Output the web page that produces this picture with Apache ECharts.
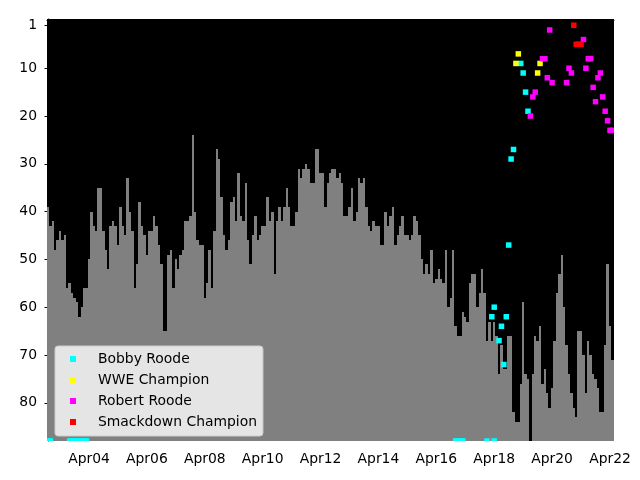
<!DOCTYPE html>
<html><head><meta charset="utf-8">
<script src="https://cdn.jsdelivr.net/npm/echarts@6/dist/echarts.min.js"></script>
<style>html,body{margin:0;padding:0;background:#fff}#c{width:640px;height:480px}</style>
</head><body><div id="c"></div>
<script>
// first bar month; one bar per month
const startMonth = '2002-11';
const barValues = [
39,43,42,48,46,44,46,45,56,55,57,58,59,62,60,56,56,50,40,43,44,35,35,44,48,52,43,42,43,47,39,43,45,33,40,44,56,51,38,43,45,49,44,44,41,43,47,51,65,65,49,48,56,50,52,49,48,42,42,
41,24,40,46,47,47,58,55,48,56,44,27,29,37,45,48,46,38,37,42,32,41,42,34,46,51,45,41,46,45,43,43,37,42,40,53,42,39,42,39,35,39,43,43,40,31,33,31,30,31,34,34,27,27,32,32,39,34,32,31,
31,33,32,34,41,41,39,35,42,40,33,34,33,39,43,44,42,43,43,47,47,40,43,41,39,47,45,43,41,45,45,46,45,41,42,45,50,53,51,53,48,55,54,52,54,55,48,60,58,48,64,66,66,61,62,63,55,53,53,
60,57,52,57,67,63,67,63,66,74,68,73,73,66,66,82,84,84,76,59,74,75,88,74,66,67,64,76,73,78,81,77,67,57,53,49,60,68,74,78,81,83,65,65,70,78,67,70,74,75,77,82,82,68,51,64,71
];
const yTicks = [1,10,20,30,40,50,60,70,80];
const xTickMonths = ['2004-04','2006-04','2008-04','2010-04','2012-04','2014-04','2016-04','2018-04','2020-04','2022-04'];
const xTickLabels = ['Apr04','Apr06','Apr08','Apr10','Apr12','Apr14','Apr16','Apr18','Apr20','Apr22'];

const bobbyMonths = ['2002-11','2002-12','2003-08','2003-09','2003-10','2003-11','2003-12','2004-01','2004-02','2004-03',
  '2016-12','2017-01','2017-02','2017-03','2018-01','2018-04',
  '2018-03','2018-04','2018-06','2018-07','2018-08','2018-09','2018-10','2018-11','2018-12','2019-03','2019-04','2019-05','2019-06'];
const bobbyRanks = [88,88,88,88,88,88,88,88,88,88,
  88,88,88,88,88,88,
  62,60,67,64,72,62,47,29,27,9,11,15,19];
const wweMonths = ['2019-01','2019-02','2019-10','2019-11'];
const wweRanks = [9,7,11,9];
const robertMonths = ['2019-07','2019-08','2019-09','2019-12','2020-01','2020-02','2020-03','2020-04','2020-10','2020-11','2020-12',
  '2021-05','2021-06','2021-07','2021-08','2021-09','2021-10','2021-11','2021-12','2022-01','2022-02','2022-03','2022-04','2022-05'];
const robertRanks = [20,16,15,8,8,12,2,13,13,10,11,4,10,8,8,14,17,12,11,16,19,21,23,23];
const sdMonths = ['2021-01','2021-02','2021-03','2021-04'];
const sdRanks = [1,5,5,5];

const Y_MIN = -0.3, Y_MAX = 88;
const X_MIN = -0.41, X_MAX = 234.66;

function monthIndex(s){
  const a = s.split('-').map(Number), b = startMonth.split('-').map(Number);
  return (a[0]-b[0])*12 + (a[1]-b[1]);
}
const barData = barValues.map((v,i)=>[i,v]);
const monthTicks = barValues.map((v,i)=>i);
const xTickIdx = xTickMonths.map(monthIndex);
const labelMap = {};
xTickIdx.forEach((k,j)=>{labelMap[k]=xTickLabels[j];});

function csRect(params){
  const c = params.coordSys;
  return {x:c.x, y:c.y, width:c.width, height:c.height};
}
function barRender(params, api){
  const i = api.value(0), v = api.value(1);
  const a = api.coord([i-0.5, v]);
  const b = api.coord([i+0.5, Y_MAX]);
  const x0 = Math.round(a[0]), x1 = Math.round(b[0]);
  const y0 = Math.round(a[1]), y1 = Math.round(b[1]);
  const r = echarts.graphic.clipRectByRect({x:x0, y:y0, width:x1-x0, height:y1-y0}, csRect(params));
  if(!r || r.height<=0 || r.width<=0) return null;
  return {type:'rect', shape:r, style:{fill:'#808080'}};
}
function markerRender(color){
  return function(params, api){
    const c = api.coord([api.value(0), api.value(1)]);
    const s = 5.5;
    const r = echarts.graphic.clipRectByRect({x:c[0]-s/2, y:c[1]-s/2, width:s, height:s}, csRect(params));
    if(!r) return null;
    return {type:'rect', shape:r, style:{fill:color}};
  };
}
function pts(months, ranks){ return months.map((m,i)=>[monthIndex(m), ranks[i]]); }

const FONT = 'DejaVu Sans';
const chart = echarts.init(document.getElementById('c'), null, {renderer:'canvas'});
chart.setOption({
  animation:false,
  grid:{left:47, top:19, width:567, height:422, show:true, backgroundColor:'#000000', borderWidth:0},
  xAxis:{type:'value', min:X_MIN, max:X_MAX,
    axisLine:{show:true, lineStyle:{color:'#000', width:1}},
    axisTick:{show:true, customValues:monthTicks, length:3, lineStyle:{color:'#000', width:1}},
    axisLabel:{show:true, customValues:xTickIdx, formatter:(v)=>labelMap[Math.round(v)]||'', margin:11,
      fontFamily:FONT, fontSize:13.9, color:'#000'},
    splitLine:{show:false}},
  yAxis:{type:'value', inverse:true, min:Y_MIN, max:Y_MAX,
    axisLine:{show:true, lineStyle:{color:'#000', width:1}},
    axisTick:{show:true, customValues:yTicks, length:3.5, lineStyle:{color:'#000', width:1}},
    axisLabel:{show:true, customValues:yTicks, margin:10, fontFamily:FONT, fontSize:13.9, color:'#000'},
    splitLine:{show:false}},
  legend:{orient:'vertical', left:55, top:346, padding:[6,6,7,15], itemWidth:6, itemHeight:6, itemGap:7,
    icon:'rect', backgroundColor:'#e5e5e5', borderColor:'#cccccc', borderWidth:1, borderRadius:3,
    textStyle:{fontFamily:FONT, fontSize:13.9, color:'#000', lineHeight:14, padding:[0,0,0,17]},
    data:['Bobby Roode','WWE Champion','Robert Roode','Smackdown Champion']},
  series:[
    {type:'custom', name:'bars', renderItem:barRender, data:barData, encode:{x:0,y:1}, silent:true, z:1},
    {type:'custom', name:'Bobby Roode', renderItem:markerRender('#00ffff'), itemStyle:{color:'#00ffff'}, data:pts(bobbyMonths,bobbyRanks), encode:{x:0,y:1}, z:3},
    {type:'custom', name:'WWE Champion', renderItem:markerRender('#ffff00'), itemStyle:{color:'#ffff00'}, data:pts(wweMonths,wweRanks), encode:{x:0,y:1}, z:3},
    {type:'custom', name:'Robert Roode', renderItem:markerRender('#ff00ff'), itemStyle:{color:'#ff00ff'}, data:pts(robertMonths,robertRanks), encode:{x:0,y:1}, z:3},
    {type:'custom', name:'Smackdown Champion', renderItem:markerRender('#ff0000'), itemStyle:{color:'#ff0000'}, data:pts(sdMonths,sdRanks), encode:{x:0,y:1}, z:3}
  ]
});
</script></body></html>
